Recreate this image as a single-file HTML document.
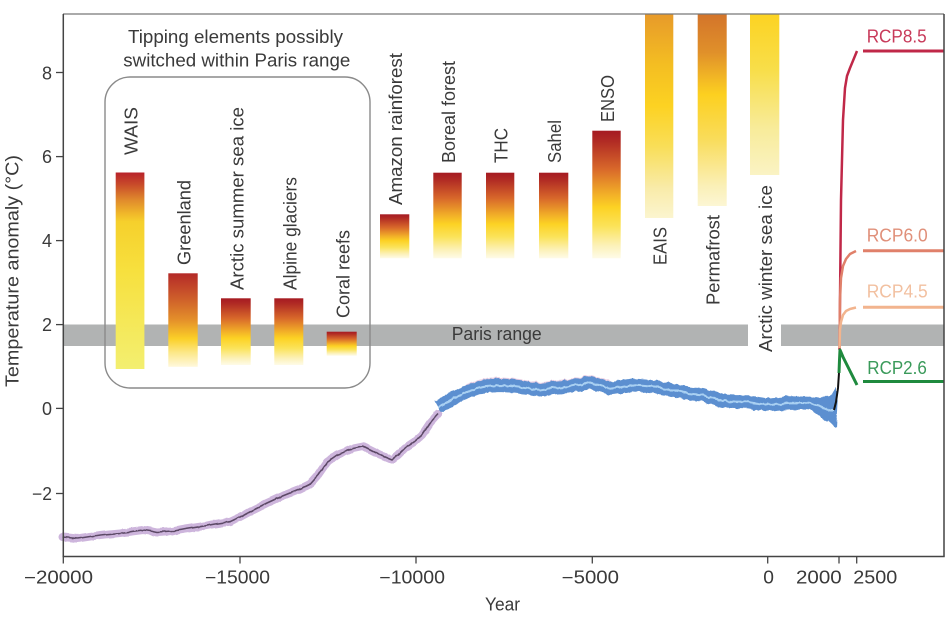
<!DOCTYPE html>
<html>
<head>
<meta charset="utf-8">
<style>
  html,body{margin:0;padding:0;background:#fff;}
  svg{display:block;}
  text{font-family:"Liberation Sans",sans-serif;font-size:18px;fill:#3a3a3a;}
</style>
</head>
<body>
<svg width="952" height="621" viewBox="0 0 952 621" xmlns="http://www.w3.org/2000/svg">
<defs>
  <filter id="jag" filterUnits="userSpaceOnUse" x="0" y="0" width="952" height="621">
    <feTurbulence type="fractalNoise" baseFrequency="0.18 0.05" numOctaves="2" seed="3" result="n"/>
    <feDisplacementMap in="SourceGraphic" in2="n" scale="4" xChannelSelector="R" yChannelSelector="G"/>
  </filter>
  <filter id="jag2" filterUnits="userSpaceOnUse" x="0" y="0" width="952" height="621">
    <feTurbulence type="fractalNoise" baseFrequency="0.12 0.05" numOctaves="2" seed="7" result="n"/>
    <feDisplacementMap in="SourceGraphic" in2="n" scale="2.5" xChannelSelector="R" yChannelSelector="G"/>
  </filter>
  <linearGradient id="gstd" x1="0" y1="0" x2="0" y2="1">
    <stop offset="0" stop-color="#a51a22"/>
    <stop offset="0.08" stop-color="#b02a24"/>
    <stop offset="0.3" stop-color="#d8682a"/>
    <stop offset="0.5" stop-color="#f2b028"/>
    <stop offset="0.6" stop-color="#fcd224"/>
    <stop offset="0.75" stop-color="#fbe35a"/>
    <stop offset="0.9" stop-color="#fcf1b8"/>
    <stop offset="1" stop-color="#fefbe8"/>
  </linearGradient>
  <linearGradient id="gwais" x1="0" y1="0" x2="0" y2="1">
    <stop offset="0" stop-color="#b8222a"/>
    <stop offset="0.06" stop-color="#c84a2a"/>
    <stop offset="0.14" stop-color="#e08a2c"/>
    <stop offset="0.21" stop-color="#f0b82a"/>
    <stop offset="0.25" stop-color="#f6d02c"/>
    <stop offset="0.5" stop-color="#f7e03e"/>
    <stop offset="1" stop-color="#f3ef70"/>
  </linearGradient>
  <linearGradient id="ggreen" x1="0" y1="0" x2="0" y2="1">
    <stop offset="0" stop-color="#b42a28"/>
    <stop offset="0.25" stop-color="#cc5a2a"/>
    <stop offset="0.5" stop-color="#e4902a"/>
    <stop offset="0.7" stop-color="#fbd028"/>
    <stop offset="0.85" stop-color="#fce88a"/>
    <stop offset="1" stop-color="#fff8dc"/>
  </linearGradient>
  <linearGradient id="geais" x1="0" y1="0" x2="0" y2="1">
    <stop offset="0" stop-color="#e79a2a"/>
    <stop offset="0.25" stop-color="#f4be22"/>
    <stop offset="0.45" stop-color="#fcd222"/>
    <stop offset="0.65" stop-color="#f9de58"/>
    <stop offset="0.85" stop-color="#f9eba8"/>
    <stop offset="1" stop-color="#fbf5cf"/>
  </linearGradient>
  <linearGradient id="gperm" x1="0" y1="0" x2="0" y2="1">
    <stop offset="0" stop-color="#d3742a"/>
    <stop offset="0.2" stop-color="#e0902a"/>
    <stop offset="0.35" stop-color="#f4bc24"/>
    <stop offset="0.42" stop-color="#fcd020"/>
    <stop offset="0.65" stop-color="#f9dc5a"/>
    <stop offset="0.9" stop-color="#faf0b8"/>
    <stop offset="1" stop-color="#fcf6d4"/>
  </linearGradient>
  <linearGradient id="garw" x1="0" y1="0" x2="0" y2="1">
    <stop offset="0" stop-color="#fcd322"/>
    <stop offset="0.35" stop-color="#f8de4a"/>
    <stop offset="0.7" stop-color="#f8eb98"/>
    <stop offset="1" stop-color="#faf3c4"/>
  </linearGradient>
</defs>

<!-- Paris range band -->
<rect x="63" y="324.5" width="685" height="21.5" fill="#b1b3b3"/>
<rect x="781" y="324.5" width="163" height="21.5" fill="#b1b3b3"/>
<text x="451.7" y="340" textLength="90" lengthAdjust="spacingAndGlyphs">Paris range</text>

<!-- Rounded box -->
<rect x="105" y="77" width="265" height="311" rx="25" ry="25" fill="none" stroke="#8a8a8a" stroke-width="1.4"/>

<!-- Title -->
<text x="128" y="43" textLength="215" lengthAdjust="spacingAndGlyphs">Tipping elements possibly</text>
<text x="123.3" y="66.5" textLength="227" lengthAdjust="spacingAndGlyphs">switched within Paris range</text>

<!-- Bars -->
<rect x="115.7" y="172.5" width="28.7" height="196.5" fill="url(#gwais)"/>
<rect x="168.3" y="273.3" width="29.4" height="93.5" fill="url(#ggreen)"/>
<rect x="221" y="298.3" width="29.7" height="66.7" fill="url(#gstd)"/>
<rect x="274.3" y="298.3" width="29" height="66.7" fill="url(#gstd)"/>
<rect x="326.7" y="331.7" width="30" height="24" fill="url(#gstd)"/>
<rect x="380" y="214.3" width="29.3" height="44" fill="url(#gstd)"/>
<rect x="433.3" y="172.7" width="28.4" height="85.6" fill="url(#gstd)"/>
<rect x="486" y="172.7" width="28.3" height="85.6" fill="url(#gstd)"/>
<rect x="539" y="172.7" width="29.3" height="85.6" fill="url(#gstd)"/>
<rect x="592.3" y="130.7" width="28.4" height="127.6" fill="url(#gstd)"/>
<rect x="645" y="14" width="28.3" height="204" fill="url(#geais)"/>
<rect x="697.7" y="14" width="29" height="192" fill="url(#gperm)"/>
<rect x="750" y="14" width="29.3" height="161" fill="url(#garw)"/>

<!-- Bar labels (rotated) -->
<text transform="translate(137.5,155) rotate(-90)" textLength="48" lengthAdjust="spacingAndGlyphs">WAIS</text>
<text transform="translate(190.5,265) rotate(-90)" textLength="85" lengthAdjust="spacingAndGlyphs">Greenland</text>
<text transform="translate(243.5,290) rotate(-90)" textLength="183" lengthAdjust="spacingAndGlyphs">Arctic summer sea ice</text>
<text transform="translate(296.5,290) rotate(-90)" textLength="113" lengthAdjust="spacingAndGlyphs">Alpine glaciers</text>
<text transform="translate(349.5,318) rotate(-90)" textLength="88" lengthAdjust="spacingAndGlyphs">Coral reefs</text>
<text transform="translate(402,205) rotate(-90)" textLength="152" lengthAdjust="spacingAndGlyphs">Amazon rainforest</text>
<text transform="translate(455,163) rotate(-90)" textLength="102" lengthAdjust="spacingAndGlyphs">Boreal forest</text>
<text transform="translate(507.5,163) rotate(-90)" textLength="35" lengthAdjust="spacingAndGlyphs">THC</text>
<text transform="translate(561,163) rotate(-90)" textLength="43" lengthAdjust="spacingAndGlyphs">Sahel</text>
<text transform="translate(614,122) rotate(-90)" textLength="47" lengthAdjust="spacingAndGlyphs">ENSO</text>
<text transform="translate(666.5,265) rotate(-90)" textLength="38" lengthAdjust="spacingAndGlyphs">EAIS</text>
<text transform="translate(719.5,305) rotate(-90)" textLength="90" lengthAdjust="spacingAndGlyphs">Permafrost</text>
<text transform="translate(772,352) rotate(-90)" textLength="167" lengthAdjust="spacingAndGlyphs">Arctic winter sea ice</text>

<!-- Purple (glacial) curve -->
<g filter="url(#jag2)">
<polyline fill="none" stroke="#cdb5dc" stroke-width="8" stroke-linejoin="round" stroke-linecap="round"
 points="63,537 77,538.5 100,535 120,533 143,530 150,531 157,532.5 165,532 172,531.5 185,529 200,526.7 215,524 230,521.7 240,517 253,510 267,503 280,497 290,493 300,489 310,484 318,475 327,462 337,455 345,452 353,448.5 363,446.5 372,451 380,455 392,460 398,455 405,448 414,442 422,435 430,423 438,414"/>
<polyline fill="none" stroke="#5c4866" stroke-width="1.6" stroke-linejoin="round"
 points="63,537 77,538.5 100,535 120,533 143,530 150,531 157,532.5 165,532 172,531.5 185,529 200,526.7 215,524 230,521.7 240,517 253,510 267,503 280,497 290,493 300,489 310,484 318,475 327,462 337,455 345,452 353,448.5 363,446.5 372,451 380,455 392,460 398,455 405,448 414,442 422,435 430,423 438,414"/>
</g>

<!-- Blue (Holocene) curve -->
<g filter="url(#jag)">
<polyline fill="none" stroke="#e3c3dc" stroke-width="11" stroke-linejoin="round" stroke-linecap="round" opacity="0.8"
 points="470,388 485,384 500,383 510,383.5 520,384.7 530,386.5 540,388 553,386 567,384.7 580,382.5 590,380.5 600,383.5 607,385"/>
<polygon fill="#5b8fd0" points="812,398 825,397 832,393 836,386 838,395 837,428 832,424 822,418 812,411"/>
<polyline fill="none" stroke="#5b8fd0" stroke-width="13" stroke-linejoin="round"
 points="438,407 447,402 460,395 470,390 485,386 500,385 510,385.5 520,386.7 530,388.5 540,390 553,388 567,386.7 580,384.5 590,382.5 600,385.5 610,388.3 622,386.5 633,385 645,386 657,387.3 670,389.5 683,392.7 693,394 703,395 713,398 723,401 735,401.5 747,401.7 758,403.5 770,405 780,404 790,402.7 800,403 810,403.3 818,405.5 823,408.3 830,411 835,412"/>
<polyline fill="none" stroke="#a9d0f2" stroke-width="2" stroke-linejoin="round"
 points="438,407 447,402 460,395 470,390 485,386 500,385 510,385.5 520,386.7 530,388.5 540,390 553,388 567,386.7 580,384.5 590,382.5 600,385.5 610,388.3 622,386.5 633,385 645,386 657,387.3 670,389.5 683,392.7 693,394 703,395 713,398 723,401 735,401.5 747,401.7 758,403.5 770,405 780,404 790,402.7 800,403 810,403.3 818,405.5 823,408.3 830,411 834,411"/>
</g>

<!-- RCP curves -->
<polyline fill="none" stroke="#c02848" stroke-width="2.5" stroke-linejoin="round"
 points="839.5,350 840,300 841,200 843,120 845,88 847,76 850,68 857,51"/>
<line x1="863" y1="51" x2="944" y2="51" stroke="#c02848" stroke-width="3"/>
<polyline fill="none" stroke="#e0806a" stroke-width="2.5" stroke-linejoin="round"
 points="839.5,348 840,300 841,278 843,266 846,259 850,254 856,251"/>
<line x1="863" y1="250.7" x2="944" y2="250.7" stroke="#e0806a" stroke-width="3"/>
<polyline fill="none" stroke="#f2b48e" stroke-width="2.5" stroke-linejoin="round"
 points="839.5,348 840,330 841,322 843,315 846,311 850,309 856,307.5"/>
<line x1="863" y1="307.3" x2="944" y2="307.3" stroke="#f2b48e" stroke-width="3"/>
<polyline fill="none" stroke="#1f8a3e" stroke-width="3" stroke-linejoin="round"
 points="839,373 839.5,360 840,350 843,357 850,371 857,385"/>
<line x1="863" y1="381.5" x2="944" y2="381.5" stroke="#1f8a3e" stroke-width="3"/>
<polyline fill="none" stroke="#111" stroke-width="2" stroke-linejoin="round"
 points="834,410 836,402 838,388 839,373"/>

<!-- RCP labels -->
<text x="866.7" y="42.7" textLength="60" lengthAdjust="spacingAndGlyphs" style="fill:#c83a5a">RCP8.5</text>
<text x="866.7" y="241.5" textLength="61" lengthAdjust="spacingAndGlyphs" style="fill:#e0907a">RCP6.0</text>
<text x="866.7" y="297.7" textLength="61" lengthAdjust="spacingAndGlyphs" style="fill:#f2c0a0">RCP4.5</text>
<text x="867.3" y="374" textLength="59.5" lengthAdjust="spacingAndGlyphs" style="fill:#3a9a5a">RCP2.6</text>

<!-- Axes frame -->
<line x1="63" y1="14" x2="944" y2="14" stroke="#777" stroke-width="1.3"/>
<line x1="944" y1="14" x2="944" y2="556.5" stroke="#444" stroke-width="1.5"/>
<line x1="63.3" y1="14" x2="63.3" y2="556.5" stroke="#444" stroke-width="1.5"/>
<line x1="62.5" y1="556.5" x2="944.7" y2="556.5" stroke="#444" stroke-width="1.5"/>

<!-- Y ticks -->
<g stroke="#444" stroke-width="1.3">
  <line x1="56" y1="72.5" x2="63" y2="72.5"/>
  <line x1="56" y1="156.6" x2="63" y2="156.6"/>
  <line x1="56" y1="240.6" x2="63" y2="240.6"/>
  <line x1="56" y1="324.6" x2="63" y2="324.6"/>
  <line x1="56" y1="408.4" x2="63" y2="408.4"/>
  <line x1="56" y1="493.5" x2="63" y2="493.5"/>
</g>
<g text-anchor="end">
  <text x="52" y="79.5">8</text>
  <text x="52" y="163.2">6</text>
  <text x="52" y="247.2">4</text>
  <text x="52" y="331.2">2</text>
  <text x="52" y="415">0</text>
  <text x="52" y="500.2" textLength="20" lengthAdjust="spacingAndGlyphs">−2</text>
</g>

<!-- X ticks -->
<g stroke="#444" stroke-width="1.3">
  <line x1="63.3" y1="556.5" x2="63.3" y2="563.5"/>
  <line x1="240" y1="556.5" x2="240" y2="563.5"/>
  <line x1="416" y1="556.5" x2="416" y2="563.5"/>
  <line x1="592.3" y1="556.5" x2="592.3" y2="563.5"/>
  <line x1="767.7" y1="556.5" x2="767.7" y2="563.5"/>
  <line x1="839" y1="556.5" x2="839" y2="563.5"/>
  <line x1="856.7" y1="556.5" x2="856.7" y2="563.5"/>
</g>
<text x="24" y="583.5" textLength="69" lengthAdjust="spacingAndGlyphs">−20000</text>
<text x="205" y="583.5" textLength="65" lengthAdjust="spacingAndGlyphs">−15000</text>
<text x="379.3" y="583.5" textLength="65.7" lengthAdjust="spacingAndGlyphs">−10000</text>
<text x="561.7" y="583.5" textLength="57.3" lengthAdjust="spacingAndGlyphs">−5000</text>
<text x="763.3" y="583.5" textLength="10.7" lengthAdjust="spacingAndGlyphs">0</text>
<text x="796" y="583.5" textLength="45.7" lengthAdjust="spacingAndGlyphs">2000</text>
<text x="853.3" y="583.5" textLength="44" lengthAdjust="spacingAndGlyphs">2500</text>

<!-- Axis titles -->
<text x="485" y="610.5" textLength="35" lengthAdjust="spacingAndGlyphs">Year</text>
<text transform="translate(18.3,271) rotate(-90)" text-anchor="middle" textLength="232" lengthAdjust="spacingAndGlyphs">Temperature anomaly (°C)</text>
</svg>
</body>
</html>
